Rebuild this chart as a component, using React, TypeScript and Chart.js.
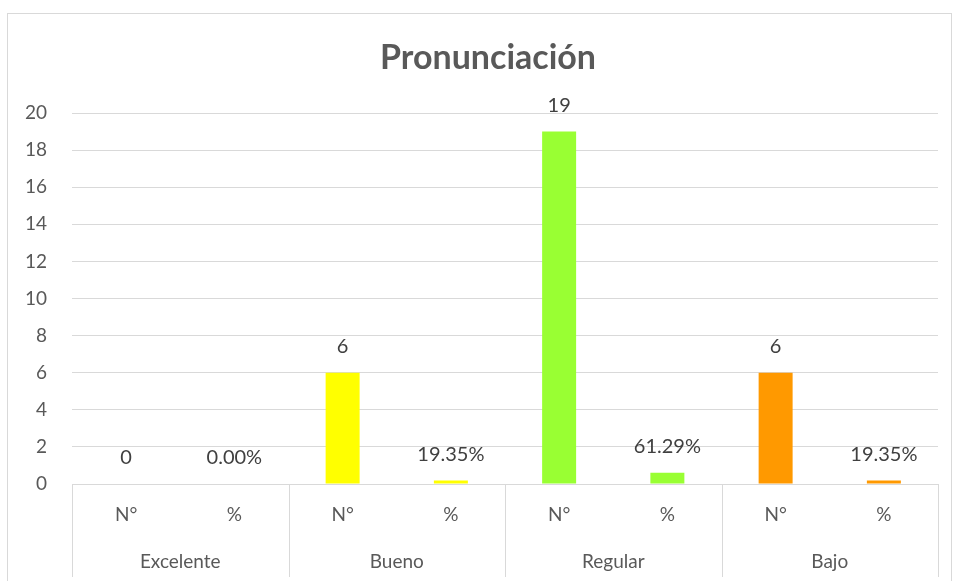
import React, { useEffect, useRef } from "react";
import { Chart, registerables } from "chart.js";
Chart.register(...registerables);

const titleText = "Pronunciación";
const groups = ["Excelente", "Bueno", "Regular", "Bajo"];
const subLabels = ["N°", "%"];
const counts = [0, 6, 19, 6];
const percents = [0.0, 0.1935, 0.6129, 0.1935];
const groupColors = ["#5B9BD5", "#FFFF00", "#99FF33", "#FF9900"];
const yMin = 0;
const yMax = 20;
const yStep = 2;

const FONT = "Lato, 'Open Sans', sans-serif";
const GRID = "#d9d9d9";

export default function App() {
  const ref = useRef<HTMLCanvasElement | null>(null);

  useEffect(() => {
    document.body.style.margin = "0";
    const labels = groups.flatMap(() => subLabels);
    const values = groups.flatMap((_, i) => [counts[i], percents[i]]);
    const colors = groups.flatMap((_, i) => [groupColors[i], groupColors[i]]);
    const isPct = groups.flatMap(() => [false, true]);

    const decor = {
      id: "decor",
      beforeDraw(chart: any) {
        const { ctx, width, height } = chart;
        ctx.save();
        ctx.fillStyle = "#ffffff";
        ctx.fillRect(0, 0, width, height);
        ctx.strokeStyle = GRID;
        ctx.lineWidth = 1;
        ctx.strokeRect(7.5, 13.5, 944, 600);
        ctx.fillStyle = "#595959";
        ctx.font = `bold 34px ${FONT}`;
        ctx.textAlign = "center";
        ctx.textBaseline = "middle";
        ctx.fillText(titleText, 488, 58);
        ctx.restore();
      },
      afterDraw(chart: any) {
        const { ctx, chartArea } = chart;
        const x = chart.scales.x;
        ctx.save();
        ctx.strokeStyle = GRID;
        ctx.lineWidth = 1;
        for (let g = 0; g <= groups.length; g++) {
          let px: number;
          if (g === 0) px = chartArea.left;
          else if (g === groups.length) px = chartArea.right;
          else px = (x.getPixelForValue(2 * g - 1) + x.getPixelForValue(2 * g)) / 2;
          px = Math.round(px) + 0.5;
          ctx.beginPath();
          ctx.moveTo(px, chartArea.bottom);
          ctx.lineTo(px, chartArea.bottom + 93);
          ctx.stroke();
        }
        const meta = chart.getDatasetMeta(0);
        ctx.fillStyle = "#404040";
        ctx.font = `20px ${FONT}`;
        ctx.textAlign = "center";
        ctx.textBaseline = "middle";
        meta.data.forEach((bar: any, i: number) => {
          const v = values[i];
          const txt = isPct[i] ? (v * 100).toFixed(2) + "%" : String(v);
          ctx.fillText(txt, bar.x, bar.y - 26);
        });
        ctx.restore();
      },
    };

    const chart = new Chart(ref.current as HTMLCanvasElement, {
      type: "bar",
      data: {
        labels,
        datasets: [
          {
            data: values,
            backgroundColor: colors,
            borderWidth: 0,
            categoryPercentage: 1,
            barPercentage: 0.314,
          },
        ],
      },
      options: {
        responsive: false,
        animation: false,
        layout: { padding: { left: 0, right: 17, top: 113, bottom: 0 } },
        plugins: {
          legend: { display: false },
          tooltip: { enabled: false },
          title: { display: false },
        },
        scales: {
          y: {
            min: yMin,
            max: yMax,
            ticks: {
              stepSize: yStep,
              color: "#595959",
              font: { family: FONT, size: 19 },
              padding: 25,
            },
            grid: { color: GRID, lineWidth: 1, drawTicks: false },
            border: { display: false },
            afterFit: (s: any) => {
              s.width = 72;
            },
          },
          x: {
            weight: 0,
            ticks: {
              color: "#595959",
              font: { family: FONT, size: 19 },
              padding: 19,
              maxRotation: 0,
              autoSkip: false,
            },
            grid: { display: false, drawTicks: false },
            border: { display: false },
            afterFit: (s: any) => {
              s.height = 56;
            },
          },
          x2: {
            type: "category",
            position: "bottom",
            weight: 1,
            labels: groups,
            offset: true,
            ticks: {
              color: "#595959",
              font: { family: FONT, size: 19 },
              padding: 10,
              maxRotation: 0,
              autoSkip: false,
            },
            grid: { display: false, drawTicks: false },
            border: { display: false },
            afterFit: (s: any) => {
              s.height = 41;
            },
          },
        },
      } as any,
      plugins: [decor],
    });
    return () => chart.destroy();
  }, []);

  return (
    <div style={{ width: 955, height: 581 }}>
      <canvas ref={ref} width={955} height={581} />
    </div>
  );
}
